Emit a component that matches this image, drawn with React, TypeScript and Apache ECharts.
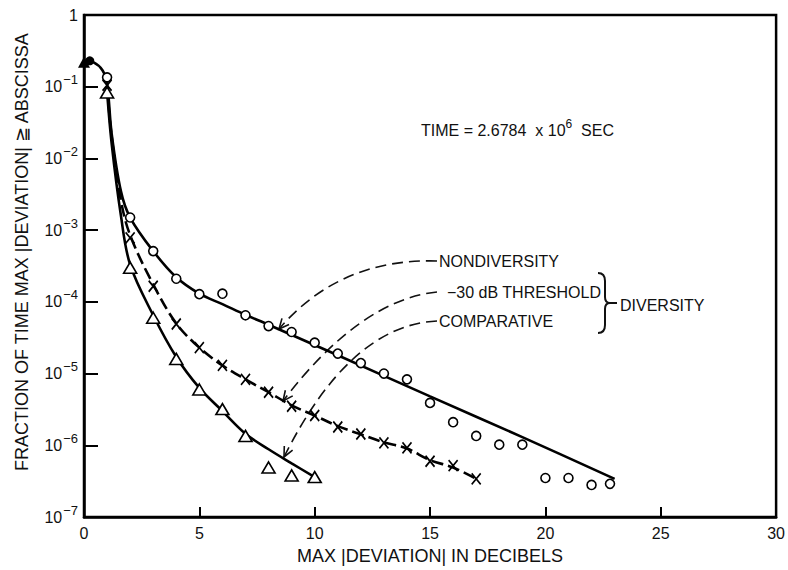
import React, { useEffect, useRef } from "react";
import * as echarts from "echarts";

// ---------- data ----------
// Nondiversity measured points (circles)
const circleX = [1, 2, 3, 4, 5, 6, 7, 8, 9, 10, 11, 12, 13, 14, 15, 16, 17, 18, 19, 20, 21, 22, 22.8];
const circleY = [0.135, 1.5e-3, 5.1e-4, 2.1e-4, 1.28e-4, 1.3e-4, 6.5e-5, 4.6e-5, 3.8e-5, 2.7e-5, 1.9e-5, 1.4e-5, 1.0e-5, 8.3e-6, 3.9e-6, 2.1e-6, 1.35e-6, 1.02e-6, 1.02e-6, 3.5e-7, 3.5e-7, 2.8e-7, 2.9e-7];

// -30 dB threshold diversity points (crosses)
const crossX = [1, 2, 3, 4, 5, 6, 7, 8, 9, 10, 11, 12, 13, 14, 15, 16, 17];
const crossY = [0.105, 7.8e-4, 1.65e-4, 4.9e-5, 2.3e-5, 1.3e-5, 8.3e-6, 5.5e-6, 3.5e-6, 2.6e-6, 1.8e-6, 1.44e-6, 1.08e-6, 9.2e-7, 6.0e-7, 5.2e-7, 3.4e-7];

// Comparative diversity points (triangles)
const triX = [1, 2, 3, 4, 5, 6, 7, 8, 9, 10];
const triY = [0.083, 3.0e-4, 6.0e-5, 1.6e-5, 6.0e-6, 3.2e-6, 1.35e-6, 4.9e-7, 3.8e-7, 3.6e-7];

// Start values at 0 dB (overlapping filled markers)
const startTriX = [0];
const startTriY = [0.22];
const startCircleX = [0.25];
const startCircleY = [0.23];

// Fitted curves
const nondivCurveX = [0, 0.4, 0.8, 1, 1.2, 1.6, 2, 3, 4, 5, 6, 7, 8, 11, 15, 19, 23];
const nondivCurveY = [0.23, 0.22, 0.17, 0.11, 0.022, 3.5e-3, 1.5e-3, 5.1e-4, 2.2e-4, 1.3e-4, 9.3e-5, 6.6e-5, 4.8e-5, 1.8e-5, 4.8e-6, 1.3e-6, 3.4e-7];

const thrCurveX = [1, 1.2, 1.6, 2, 3, 4, 5, 6, 7, 8, 9, 10, 11, 12, 13, 14, 15, 16, 17];
const thrCurveY = [0.1, 0.02, 2.6e-3, 8.5e-4, 1.75e-4, 5.0e-5, 2.3e-5, 1.3e-5, 8.3e-6, 5.5e-6, 3.6e-6, 2.6e-6, 1.85e-6, 1.42e-6, 1.1e-6, 9.0e-7, 6.2e-7, 4.9e-7, 3.4e-7];

const compCurveX = [1, 1.2, 1.6, 2, 3, 4, 5, 6, 7, 8, 9, 10];
const compCurveY = [0.085, 0.016, 1.6e-3, 3.3e-4, 6.5e-5, 1.7e-5, 6.3e-6, 3.0e-6, 1.45e-6, 8.8e-7, 5.6e-7, 3.6e-7];

// Axis tick labels
const xTicks = [0, 5, 10, 15, 20, 25, 30];
const yExponents = [0, -1, -2, -3, -4, -5, -6, -7];

const zip = (xs: number[], ys: number[]) => xs.map((x, i) => [x, ys[i]]);

const FONT = '"Liberation Sans", Arial, sans-serif';
const INK = "#111";

echarts.graphic.registerShape(
  "brace",
  echarts.graphic.extendPath(
    "M0 0 C5 0 7 3 7 8 L7 24 C7 28 9 30 12 30 C9 30 7 32 7 36 L7 52 C7 57 5 60 0 60",
    {}
  )
);

function leader(sx: number, sy: number, cx: number, cy: number, ex: number, ey: number): any[] {
  const dx = ex - cx;
  const dy = ey - cy;
  const len = Math.hypot(dx, dy);
  const bx = -dx / len;
  const by = -dy / len;
  const a = (25 * Math.PI) / 180;
  const L = 11;
  const r1 = [bx * Math.cos(a) - by * Math.sin(a), bx * Math.sin(a) + by * Math.cos(a)];
  const r2 = [bx * Math.cos(-a) - by * Math.sin(-a), bx * Math.sin(-a) + by * Math.cos(-a)];
  return [
    {
      type: "bezierCurve",
      shape: { x1: sx, y1: sy, cpx1: cx, cpy1: cy, x2: ex, y2: ey },
      style: { stroke: INK, lineWidth: 1.6, lineDash: [11, 6], fill: null },
      silent: true,
    },
    {
      type: "polyline",
      shape: {
        points: [
          [ex + r1[0] * L, ey + r1[1] * L],
          [ex, ey],
          [ex + r2[0] * L, ey + r2[1] * L],
        ],
      },
      style: { stroke: INK, lineWidth: 1.6, fill: null },
      silent: true,
    },
  ];
}

export default function App() {
  const ref = useRef<HTMLDivElement>(null);

  useEffect(() => {
    if (!ref.current) return;
    const chart = echarts.init(ref.current, undefined, { renderer: "svg" });

    const textStyle = { fontFamily: FONT, fontSize: 16, fill: INK };

    const option: any = {
      animation: false,
      backgroundColor: "#fff",
      grid: {
        left: 84,
        right: 9,
        top: 15,
        bottom: 48,
        show: true,
        borderColor: "#000",
        borderWidth: 2.5,
        backgroundColor: "transparent",
      },
      xAxis: {
        type: "value",
        min: xTicks[0],
        max: xTicks[xTicks.length - 1],
        interval: 5,
        axisLine: { show: true, onZero: false, lineStyle: { color: "#000", width: 2.5 } },
        axisTick: { show: true, inside: true, length: 10, lineStyle: { color: "#000", width: 2 } },
        axisLabel: { color: INK, fontSize: 16, fontFamily: FONT, margin: 8 },
        splitLine: { show: false },
        name: "MAX |DEVIATION| IN DECIBELS",
        nameLocation: "middle",
        nameGap: 30,
        nameTextStyle: { color: INK, fontSize: 18, fontFamily: FONT },
      },
      yAxis: {
        type: "log",
        logBase: 10,
        min: Math.pow(10, yExponents[yExponents.length - 1]),
        max: Math.pow(10, yExponents[0]),
        axisLine: { show: true, lineStyle: { color: "#000", width: 2.5 } },
        axisTick: { show: true, inside: true, length: 14, lineStyle: { color: "#000", width: 2 } },
        minorTick: { show: false },
        splitLine: { show: false },
        axisLabel: {
          margin: 6,
          fontFamily: FONT,
          color: INK,
          formatter: (v: number) => {
            const e = Math.round(Math.log10(v));
            return e === 0 ? "{b|1}" : `{b|10}{s|−${-e}}`;
          },
          rich: {
            b: { fontSize: 16, fontFamily: FONT, color: INK },
            s: { fontSize: 13, fontFamily: FONT, color: INK, padding: [0, 0, 14, 1] },
          },
        },
      },
      series: [
        {
          name: "Nondiversity curve",
          type: "line",
          data: zip(nondivCurveX, nondivCurveY),
          smooth: 0.35,
          showSymbol: false,
          lineStyle: { color: "#000", width: 2.6 },
          z: 2,
        },
        {
          name: "-30 dB threshold curve",
          type: "line",
          data: zip(thrCurveX, thrCurveY),
          smooth: 0.35,
          showSymbol: false,
          lineStyle: { color: "#000", width: 2.6, type: [12, 5] },
          z: 2,
        },
        {
          name: "Comparative curve",
          type: "line",
          data: zip(compCurveX, compCurveY),
          smooth: 0.35,
          showSymbol: false,
          lineStyle: { color: "#000", width: 2.6 },
          z: 2,
        },
        {
          name: "Nondiversity",
          type: "scatter",
          data: zip(circleX, circleY),
          symbol: "circle",
          symbolSize: 9,
          itemStyle: { color: "#fff", borderColor: "#000", borderWidth: 1.6, opacity: 1 },
          z: 4,
        },
        {
          name: "-30 dB threshold",
          type: "scatter",
          data: zip(crossX, crossY),
          symbol: "path://M0,0L10,12M10,0L0,12",
          symbolSize: [9, 11],
          itemStyle: { color: "rgba(0,0,0,0)", borderColor: "#000", borderWidth: 1.8, opacity: 1 },
          z: 4,
        },
        {
          name: "Comparative",
          type: "scatter",
          data: zip(triX, triY),
          symbol: "triangle",
          symbolSize: [13, 11],
          itemStyle: { color: "#fff", borderColor: "#000", borderWidth: 1.6, opacity: 1 },
          z: 4,
        },
        {
          name: "Start triangle",
          type: "scatter",
          data: zip(startTriX, startTriY),
          symbol: "triangle",
          symbolSize: [12, 11],
          itemStyle: { color: "#000", opacity: 1 },
          z: 5,
        },
        {
          name: "Start circle",
          type: "scatter",
          data: zip(startCircleX, startCircleY),
          symbol: "circle",
          symbolSize: 9,
          itemStyle: { color: "#000", opacity: 1 },
          z: 5,
        },
      ],
      graphic: [
        {
          type: "text",
          x: 22,
          y: 252,
          rotation: Math.PI / 2,
          style: {
            text: "FRACTION OF TIME MAX |DEVIATION| ≧ ABSCISSA",
            fontFamily: FONT,
            fontSize: 18,
            fill: INK,
            align: "center",
            verticalAlign: "middle",
          },
        },
        {
          type: "text",
          x: 421,
          y: 130,
          style: {
            text: "{a|TIME = 2.6784  x 10}{s|6}{a|  SEC}",
            verticalAlign: "middle",
            align: "left",
            rich: {
              a: { fontFamily: FONT, fontSize: 16, fill: INK, color: INK },
              s: { fontFamily: FONT, fontSize: 12, fill: INK, color: INK, padding: [0, 0, 12, 0] },
            },
          },
        },
        { type: "text", x: 439, y: 261, style: { ...textStyle, text: "NONDIVERSITY", verticalAlign: "middle" } },
        { type: "text", x: 447, y: 292, style: { ...textStyle, text: "−30 dB THRESHOLD", verticalAlign: "middle" } },
        { type: "text", x: 439, y: 321, style: { ...textStyle, text: "COMPARATIVE", verticalAlign: "middle" } },
        { type: "text", x: 620, y: 305, style: { ...textStyle, text: "DIVERSITY", verticalAlign: "middle" } },
        {
          type: "brace",
          x: 598,
          y: 273,
          style: { fill: null, stroke: INK, lineWidth: 2 },
        },
        {
          type: "line",
          shape: { x1: 610, y1: 303, x2: 617, y2: 303 },
          style: { stroke: INK, lineWidth: 2 },
        },
        ...leader(437, 261, 340, 258, 279, 329),
        ...leader(437, 292, 360, 300, 283, 401),
        ...leader(437, 321, 350, 325, 284, 457),
      ],
    };

    chart.setOption(option);
    return () => chart.dispose();
  }, []);

  return (
    <div
      ref={ref}
      style={{ position: "absolute", left: 0, top: 0, width: 788, height: 570, background: "#fff" }}
    />
  );
}
